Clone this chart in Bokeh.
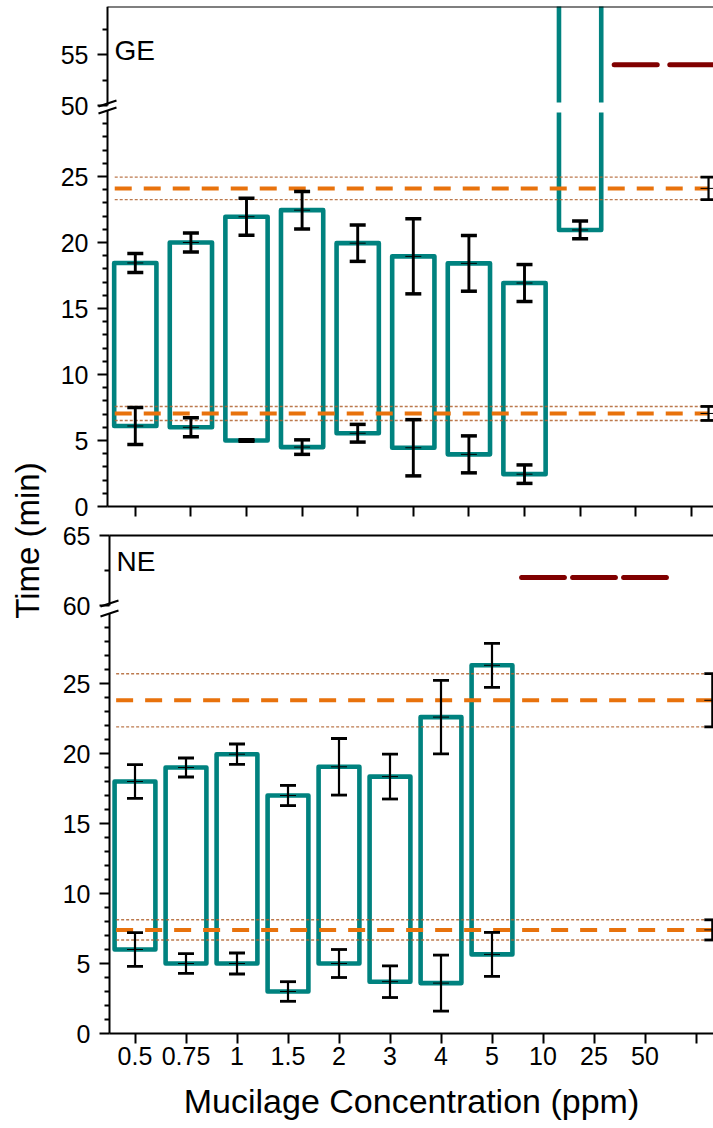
import math
import numpy as np
from bokeh.plotting import figure
from bokeh.models import (ColumnDataSource, Range1d, FixedTicker, LinearAxis,
                          Whisker, TeeHead, Label, Arrow)
from bokeh.layouts import row, column
from bokeh.embed import file_html
from bokeh.resources import INLINE

# ---------------- data ----------------
categories = ["0.5", "0.75", "1", "1.5", "2", "3", "4", "5", "10", "25", "50"]

# GE panel: floating bars from lower edge to upper edge, SD at each edge
ge_cats = ["0.5", "0.75", "1", "1.5", "2", "3", "4", "5", "10"]
ge_upper = [18.45, 20.0, 21.95, 22.45, 19.95, 18.95, 18.42, 16.93, 65.0]
ge_upper_sd = [0.72, 0.72, 1.4, 1.42, 1.38, 2.84, 2.11, 1.4, np.nan]
ge_lower = [6.1, 6.0, 5.0, 4.5, 5.55, 4.45, 3.95, 2.45, 20.95]
ge_lower_sd = [1.4, 0.72, 0.05, 0.55, 0.67, 2.13, 1.4, 0.7, 0.67]
ge_none_cats = ["25", "50"]
ge_none_value = [54.0, 54.0]
ge_control_mean = [24.1, 7.05]
ge_control_sd = [0.85, 0.53]

# NE panel
ne_cats = ["0.5", "0.75", "1", "1.5", "2", "3", "4", "5"]
ne_upper = [18.0, 19.0, 19.95, 17.0, 19.05, 18.35, 22.6, 26.3]
ne_upper_sd = [1.2, 0.68, 0.73, 0.72, 2.02, 1.6, 2.63, 1.57]
ne_lower = [6.0, 5.0, 5.0, 3.0, 5.0, 3.7, 3.6, 5.65]
ne_lower_sd = [1.2, 0.7, 0.75, 0.7, 1.0, 1.13, 2.0, 1.57]
ne_none_cats = ["10", "25", "50"]
ne_none_value = [62.0, 62.0, 62.0]
ne_control_mean = [23.8, 7.4]
ne_control_sd = [1.9, 0.72]

y_title = "Time (min)"
x_title = "Mucilage Concentration (ppm)"

# ---------------- style ----------------
FONT = "Liberation Sans"
TEAL = "#00827f"
ORANGE = "#e8720c"
DOT = "#b0612e"
MAROON = "#800000"
idx = {c: i for i, c in enumerate(categories)}


def lin_range(v_a, px_a, v_b, px_b, top_px, bottom_px):
    k = (v_b - v_a) / (px_a - px_b)          # value per pixel (upwards)
    return v_a - (bottom_px - px_a) * k, v_a + (px_a - top_px) * k, k


def style_axis(ax, ticks, minor):
    ax.ticker = FixedTicker(ticks=ticks, minor_ticks=minor)
    ax.axis_line_width = 2
    ax.axis_line_color = "black"
    ax.major_tick_line_width = 2
    ax.minor_tick_line_width = 2
    ax.major_tick_out = 10
    ax.major_tick_in = 0
    ax.minor_tick_out = 5
    ax.minor_tick_in = 0
    ax.major_label_text_font = FONT
    ax.major_label_text_font_size = "25px"
    ax.major_label_text_color = "black"
    ax.major_label_standoff = 9


def bar_paths(cats, lower, upper, hw, lo_cut, hi_cut):
    lo_xs, lo_ys, hi_xs, hi_ys = [], [], [], []
    for c, b, t in zip(cats, lower, upper):
        x = idx[c]
        l, r = x - hw, x + hw
        if t <= lo_cut:
            lo_xs.append([x, l, l, r, r, x])
            lo_ys.append([b, b, t, t, b, b])
        else:
            lo_xs.append([l, l, r, r])
            lo_ys.append([lo_cut, b, b, lo_cut])
            if t > hi_cut:
                hi_xs.append([l, l, r, r])
                hi_ys.append([hi_cut, t, t, hi_cut])
    return lo_xs, lo_ys, hi_xs, hi_ys


def draw_err(p, xs, means, sds, lw):
    keep = [not np.isnan(s) for s in sds]
    x = [a for a, k in zip(xs, keep) if k]
    m = [a for a, k in zip(means, keep) if k]
    s = [a for a, k in zip(sds, keep) if k]
    src = ColumnDataSource(dict(x=x, mean=m, lo=[a - b for a, b in zip(m, s)],
                                hi=[a + b for a, b in zip(m, s)]))
    w = Whisker(source=src, base="x", lower="lo", upper="hi", dimension="height",
                line_color="black", line_width=lw, level="annotation",
                upper_head=TeeHead(size=16, line_color="black", line_width=lw + 0.6),
                lower_head=TeeHead(size=16, line_color="black", line_width=lw + 0.6))
    p.add_layout(w)
    p.scatter(x="x", y="mean", source=src, marker="dash", size=16,
              line_color="black", line_width=1)


def panel(name, cats, lower, lower_sd, upper, upper_sd, none_cats, none_vals,
          c_mean, c_sd, geo):
    (W, H, mtop, f_top, f_bot, border_px, ax_px, px_x, lo_map, hi_map,
     hi_ticks, hi_minor, lo_cut, hi_cut, hw, nhw, ctrl_x, n_ticks, labels,
     name_px, err_lw) = geo
    f_left = 713 - W                       # frame starts at figure left
    x0 = -0.5 - (ax_px - f_left) / px_x
    x1 = -0.5 + (713 - ax_px) / px_x
    lo0, lo1, klo = lin_range(*lo_map, f_top, f_bot)
    hi0, hi1, khi = lin_range(*hi_map, f_top, f_bot)
    top_val = hi1 - (border_px - f_top) * khi
    p = figure(width=W, height=H, x_range=Range1d(x0, x1), y_range=Range1d(lo0, lo1),
               toolbar_location=None, output_backend="svg",
               x_axis_location=None, y_axis_location=None,
               min_border_left=0, min_border_right=0,
               min_border_top=mtop, min_border_bottom=0)
    p.extra_y_ranges = {"upper": Range1d(hi0, hi1)}
    p.outline_line_color = None
    p.grid.visible = False

    # y axes (broken): both sit at the first category edge
    ya_lo = LinearAxis(fixed_location=-0.5, bounds=(0, 30))
    style_axis(ya_lo, [0, 5, 10, 15, 20, 25], [i for i in range(1, 30) if i % 5])
    p.add_layout(ya_lo, "left")
    ya_hi = LinearAxis(y_range_name="upper", fixed_location=-0.5,
                       bounds=(hi_ticks[0], top_val))
    style_axis(ya_hi, hi_ticks, hi_minor)
    p.add_layout(ya_hi, "left")

    # x axis at zero
    xa = LinearAxis(fixed_location=0, bounds=(-0.5, x1))
    style_axis(xa, list(range(n_ticks)), [])
    xa.minor_tick_out = 0
    xa.major_label_overrides = {i: (labels[i] if i < len(labels) else "") for i in range(n_ticks)}
    p.add_layout(xa, "below")

    # top border
    top_ax = LinearAxis(ticker=FixedTicker(ticks=[]), major_label_text_font_size="0px",
                        major_tick_out=0, major_tick_in=0, minor_tick_out=0,
                        minor_tick_in=0, axis_line_width=2, major_label_standoff=0,
                        bounds=(-0.5, x1), fixed_location=top_val, y_range_name="upper")
    p.add_layout(top_ax, "above")

    # bars, split at the axis break
    lo_xs, lo_ys, hi_xs, hi_ys = bar_paths(cats, lower, upper, hw, lo_cut, hi_cut)
    p.multi_line(xs=lo_xs, ys=lo_ys, line_color=TEAL, line_width=4.6, line_join="round")
    if hi_xs:
        p.multi_line(xs=hi_xs, ys=hi_ys, line_color=TEAL, line_width=4.6,
                     line_join="round", y_range_name="upper")

    # no-coagulation markers
    nx = [idx[c] for c in none_cats]
    p.segment(x0=[x - nhw for x in nx], x1=[x + nhw for x in nx], y0=none_vals,
              y1=none_vals, line_color=MAROON, line_width=5, line_cap="round",
              y_range_name="upper")

    # control mean +/- SD
    for mval, sval in zip(c_mean, c_sd):
        for v in (mval - sval, mval + sval):
            p.segment(x0=[-0.37], x1=[ctrl_x], y0=[v], y1=[v], line_color=DOT,
                      line_width=1.4, line_dash="3 2", line_alpha=0.85)
        p.segment(x0=[-0.37], x1=[ctrl_x], y0=[mval], y1=[mval],
                  line_color=ORANGE, line_width=4, line_dash="17 12")
    draw_err(p, [ctrl_x] * len(c_mean), c_mean, c_sd, 2.2)

    xs = [idx[c] for c in cats]
    draw_err(p, xs, upper, upper_sd, err_lw)
    draw_err(p, xs, lower, lower_sd, err_lw)

    # break marks
    dx = 9 / px_x
    for yc, kk, rn in ((hi_ticks[0] + 2 * khi, khi, "upper"), (30, klo, "default")):
        p.add_layout(Arrow(start=None, end=None, x_start=-0.5 - dx, y_start=yc - 3 * kk,
                           x_end=-0.5 + dx, y_end=yc + 3 * kk, line_width=2,
                           line_color="black", y_range_name=rn))

    # panel name
    p.add_layout(Label(x=-0.5, y=hi1 - (name_px - f_top) * khi, x_offset=7, text=name,
                       text_align="left", text_baseline="middle", text_font=FONT,
                       text_font_size="28px", text_color="black", y_range_name="upper"))
    return p, xa


W = 663
ge, ge_x = panel("GE", ge_cats, ge_lower, ge_lower_sd, ge_upper, ge_upper_sd,
                 ge_none_cats, ge_none_value, ge_control_mean, ge_control_sd,
                 (W, 520, 6, 6, 520, 6, 107, 55.6, (0, 506, 25, 176), (50, 105, 55, 54),
                  [50, 55], [52.5, 57.5], 29.85, 50.3, 0.38, 0.387, 10.31, 11,
                  [""] * 11, 50, 2.9))
ge_x.major_label_text_font_size = "0px"

ne, ne_x = panel("NE", ne_cats, ne_lower, ne_lower_sd, ne_upper, ne_upper_sd,
                 ne_none_cats, ne_none_value, ne_control_mean, ne_control_sd,
                 (W, 608, 0, 520, 1128, 535, 109, 51.0, (0, 1033, 25, 683),
                  (65, 535, 62.5, 570), [60, 65], [62.5], 29.6, 60.2, 0.4, 0.42, 11.32, 12,
                  categories, 561, 2.2))
ne_x.major_label_standoff = 3
ne_x.axis_label = x_title
ne_x.axis_label_text_font = FONT
ne_x.axis_label_text_font_size = "34px"
ne_x.axis_label_text_font_style = "normal"
ne_x.axis_label_text_color = "black"
ne_x.axis_label_standoff = 14

# y title column
tf = figure(width=713 - W, height=1128, x_range=Range1d(0, 713 - W), y_range=Range1d(0, 1128),
            toolbar_location=None, output_backend="svg", x_axis_location=None,
            y_axis_location=None, min_border=0)
tf.outline_line_color = None
tf.grid.visible = False
tf.add_layout(Label(x=27, y=1128 - 540, text=y_title, angle=math.pi / 2, text_align="center",
                    text_baseline="middle", text_font=FONT, text_font_size="33px",
                    text_color="black"))

layout = row(tf, column(ge, ne, spacing=0), spacing=0)
open("out.html", "w").write(file_html(layout, INLINE))
